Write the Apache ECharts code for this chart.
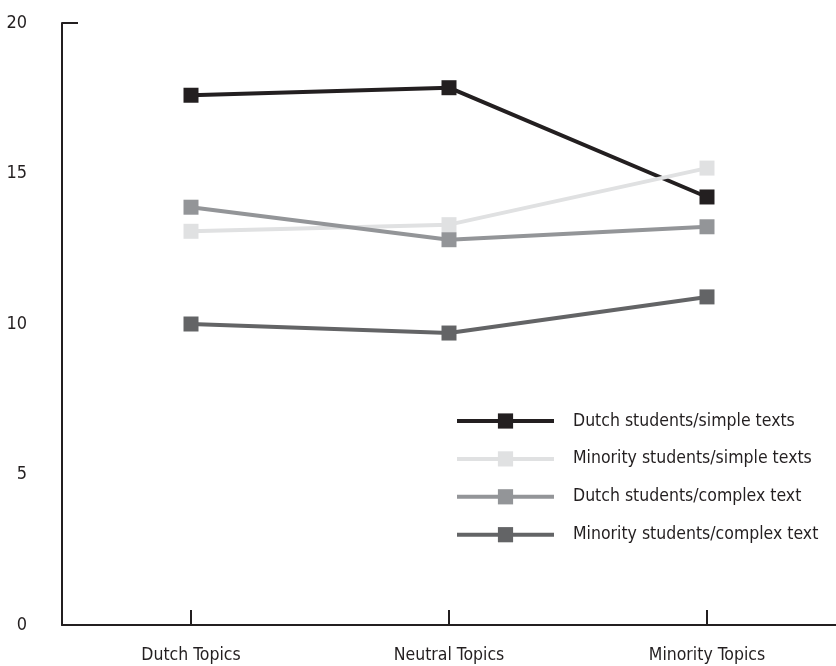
<!DOCTYPE html>
<html>
<head>
<meta charset="utf-8">
<script src="https://cdn.jsdelivr.net/npm/echarts@6/dist/echarts.min.js"></script>
<style>html,body{margin:0;padding:0;background:#fff}#c{width:836px;height:666px}</style>
</head>
<body>
<div id="c"></div>
<script>
var categories = ['Dutch Topics', 'Neutral Topics', 'Minority Topics'];
var seriesNames = ['Dutch students/simple texts', 'Minority students/simple texts', 'Dutch students/complex text', 'Minority students/complex text'];
var dutchSimple = [17.6, 17.85, 14.22];
var minoritySimple = [13.08, 13.3, 15.18];
var dutchComplex = [13.88, 12.8, 13.23];
var minorityComplex = [10.0, 9.7, 10.9];
var yTicks = [0, 5, 10, 15, 20];
var colors = ['#231f20', '#e0e1e2', '#939598', '#636466'];
var values = [dutchSimple, minoritySimple, dutchComplex, minorityComplex];

var font = '"DejaVu Sans Condensed", "Liberation Sans Narrow", sans-serif';
var chart = echarts.init(document.getElementById('c'), null, {renderer: 'canvas'});
chart.setOption({
  animation: false,
  backgroundColor: '#ffffff',
  grid: {left: 62, right: 0, top: 23, bottom: 41, containLabel: false},
  legend: {
    orient: 'vertical',
    left: 455,
    top: 412,
    padding: 0,
    itemWidth: 97,
    itemHeight: 19,
    itemGap: 19.9,
    lineStyle: {width: 4},
    textStyle: {fontFamily: font, fontSize: 17.5, color: '#231f20', padding: [0, 0, 0, 14]},
    data: seriesNames
  },
  xAxis: {
    type: 'category',
    data: categories,
    boundaryGap: true,
    axisLine: {lineStyle: {color: '#231f20', width: 2}},
    axisTick: {show: true, inside: true, length: 15, alignWithLabel: true, lineStyle: {color: '#231f20', width: 2}},
    axisLabel: {fontFamily: font, fontSize: 17.5, color: '#231f20', margin: 21}
  },
  yAxis: {
    type: 'value',
    min: yTicks[0],
    max: yTicks[yTicks.length - 1],
    interval: 5,
    splitLine: {show: false},
    axisLine: {show: true, lineStyle: {color: '#231f20', width: 2}},
    axisTick: {show: true, inside: true, length: 16, customValues: [0, 20], lineStyle: {color: '#231f20', width: 2}},
    axisLabel: {fontFamily: font, fontSize: 18, color: '#231f20', margin: 35}
  },
  series: seriesNames.map(function (n, i) {
    return {
      name: n,
      type: 'line',
      data: values[i],
      symbol: 'rect',
      symbolSize: 15,
      lineStyle: {color: colors[i], width: 4},
      itemStyle: {color: colors[i]},
      emphasis: {disabled: true}
    };
  })
});
</script>
</body>
</html>
